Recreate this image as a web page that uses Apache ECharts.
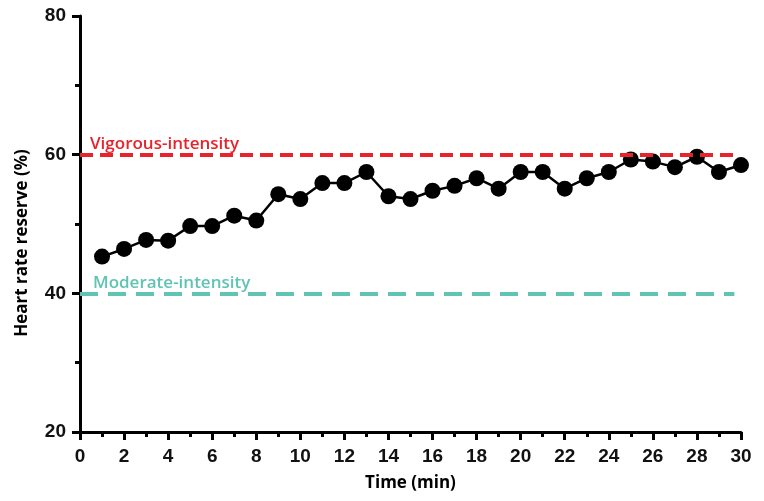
<!DOCTYPE html>
<html><head><meta charset="utf-8">
<script src="https://cdn.jsdelivr.net/npm/echarts@6/dist/echarts.min.js"></script>
<style>html,body{margin:0;padding:0;background:#fff}#c{width:764px;height:501px}</style>
</head><body><div id="c"></div>
<script>
const minutes = [1,2,3,4,5,6,7,8,9,10,11,12,13,14,15,16,17,18,19,20,21,22,23,24,25,26,27,28,29,30];
const hrr = [45.3,46.4,47.7,47.6,49.7,49.7,51.2,50.5,54.3,53.6,55.9,55.9,57.5,54.0,53.6,54.8,55.5,56.6,55.1,57.5,57.5,55.1,56.6,57.5,59.3,59.0,58.2,59.7,57.5,58.5];
const vigorous = 60;
const moderate = 40;
const vigorousLabel = 'Vigorous-intensity';
const moderateLabel = 'Moderate-intensity';
const refLineEnd = 29.7;

const chart = echarts.init(document.getElementById('c'));
const axisFont = {fontFamily:'Liberation Sans', fontWeight:'bold', fontSize:19, color:'#111'};
const nameFont = {fontFamily:'Open Sans',fontWeight:'bold',fontSize:17,color:'#000'};
chart.setOption({
  animation:false,
  grid:{left:80,right:23,top:16,bottom:69,containLabel:false},
  xAxis:{type:'value',min:0,max:30,interval:2,
    name:'Time (min)',nameLocation:'middle',nameGap:43,
    nameTextStyle:nameFont,
    axisLine:{lineStyle:{color:'#000',width:3}},
    axisTick:{length:8,lineStyle:{color:'#000',width:3}},
    minorTick:{show:true,splitNumber:2,length:5,lineStyle:{color:'#000',width:3}},
    splitLine:{show:false},
    axisLabel:Object.assign({margin:15},axisFont)},
  yAxis:{type:'value',min:20,max:80,interval:20,
    name:'Heart rate reserve (%)',nameLocation:'middle',nameGap:49,
    nameTextStyle:Object.assign({padding:[0,38,0,0]},nameFont),
    axisLine:{show:true,lineStyle:{color:'#000',width:3}},
    axisTick:{show:true,length:8,lineStyle:{color:'#000',width:3}},
    minorTick:{show:true,splitNumber:2,length:5,lineStyle:{color:'#000',width:3}},
    splitLine:{show:false},
    axisLabel:Object.assign({margin:14},axisFont)},
  series:[{
    type:'line',
    data:minutes.map((m,i)=>[m,hrr[i]]),
    symbol:'circle',symbolSize:16,
    itemStyle:{color:'#000'},
    lineStyle:{color:'#000',width:2.5},
    z:3,
    markLine:{
      silent:true,symbol:['none','none'],
      data:[
        [{coord:[0,vigorous],lineStyle:{color:'#e8232b',width:4,type:[13,7]},
          label:{show:true,position:'insideStartTop',formatter:vigorousLabel,color:'#e8232b',fontFamily:'Open Sans',fontWeight:600,fontSize:17,distance:[10,2]}},
         {coord:[refLineEnd,vigorous]}],
        [{coord:[0,moderate],lineStyle:{color:'#5fc4b3',width:4,type:[18,10]},
          label:{show:true,position:'insideStartTop',formatter:moderateLabel,color:'#5fc4b3',fontFamily:'Open Sans',fontWeight:600,fontSize:17,distance:[13,2]}},
         {coord:[refLineEnd,moderate]}]
      ]
    }
  }]
});
</script></body></html>
